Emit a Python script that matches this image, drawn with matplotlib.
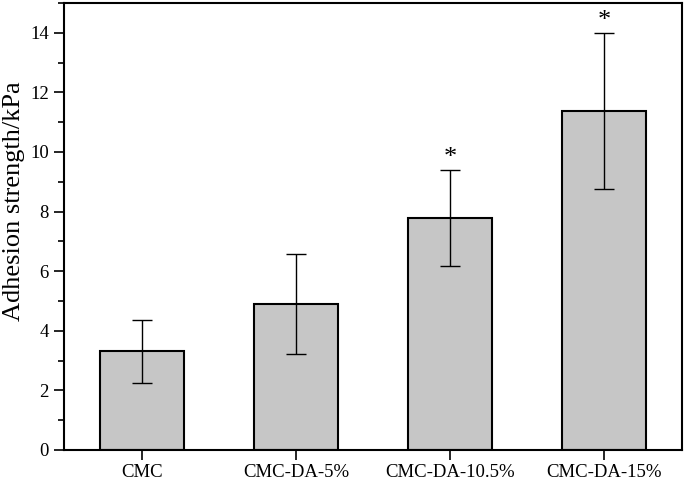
import matplotlib
matplotlib.use("Agg")
import matplotlib.pyplot as plt
from matplotlib.ticker import MultipleLocator

categories = ["CMC", "CMC-DA-5%", "CMC-DA-10.5%", "CMC-DA-15%"]
values = [3.31, 4.90, 7.78, 11.38]
errors = [1.06, 1.69, 1.62, 2.62]
significant = [False, False, True, True]

plt.rcParams['font.family'] = ['Liberation Serif', 'DejaVu Serif']

fig = plt.figure(figsize=(6.85, 4.82), dpi=100)
ax = fig.add_axes([64/685, 32/482, 618/685, 447/482])

x = list(range(len(categories)))
ax.bar(x, values, width=0.55, color='#c6c6c6', edgecolor='black', linewidth=1.5, zorder=2)
ax.errorbar(x, values, yerr=errors, fmt='none', ecolor='black', elinewidth=1.0,
            capsize=7, capthick=1.0, zorder=3)
for xi, v, e, s in zip(x, values, errors, significant):
    if s:
        ax.text(xi, v + e + 0.02, '*', ha='center', va='bottom', fontsize=19)

ax.set_xlim(-0.506, 3.506)
ax.set_ylim(0, 15)
ax.set_xticks(x)
ax.set_xticklabels(categories, fontsize=13.5)
ax.yaxis.set_major_locator(MultipleLocator(2))
ax.yaxis.set_minor_locator(MultipleLocator(1))
ax.set_yticks(range(0, 15, 2))
ax.tick_params(axis='y', which='major', direction='out', length=7, width=1.2, labelsize=13.5, pad=4)
ax.tick_params(axis='y', which='minor', direction='out', length=4.3, width=1.2)
ax.tick_params(axis='x', which='major', direction='out', length=7, width=1.2, pad=3)
ax.set_ylabel('Adhesion strength/kPa', fontsize=19)
ax.yaxis.set_label_coords(-0.0625, 0.557)
for sp in ax.spines.values():
    sp.set_linewidth(1.5)

fig.savefig('out.png', dpi=100)
